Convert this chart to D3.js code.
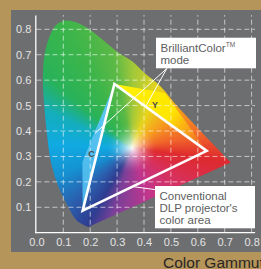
<!DOCTYPE html>
<html>
<head>
<meta charset="utf-8">
<script src="https://cdn.jsdelivr.net/npm/d3@7"></script>
<style>
  body { margin: 0; background: #b5955a; overflow: hidden; }
  svg { display: block; font-family: 'Liberation Sans', Arial, sans-serif; }
</style>
</head>
<body>
<div id="chart"></div>
<script>
// ---- data (CIE xy) ----
const xTicks = [0, 0.1, 0.2, 0.3, 0.4, 0.5, 0.6, 0.7, 0.8];
const yTicks = [0.1, 0.2, 0.3, 0.4, 0.5, 0.6, 0.7, 0.8];

// spectral locus, blue end -> green peak -> red end
const locus = [
  [0.193, 0.022], [0.150, 0.048], [0.119, 0.100], [0.095, 0.150], [0.075, 0.200],
  [0.061, 0.250], [0.050, 0.300], [0.038, 0.400], [0.029, 0.500], [0.024, 0.600],
  [0.030, 0.700], [0.050, 0.775], [0.074, 0.818], [0.100, 0.833], [0.140, 0.830],
  [0.190, 0.805], [0.245, 0.760], [0.300, 0.712], [0.355, 0.675], [0.400, 0.630],
  [0.459, 0.578], [0.530, 0.490], [0.610, 0.400], [0.680, 0.322], [0.722, 0.276]
];

const whitePoint = [0.355, 0.333];

// conventional DLP primaries: green, red, blue
const dlpGamut = [[0.290, 0.585], [0.633, 0.322], [0.172, 0.087]];
// extra BrilliantColor secondaries
const brilliantCyan = [0.171, 0.278];
const brilliantYellow = [0.478, 0.549];

const brilliantLabel = ['BrilliantColor', 'mode'];
const dlpLabel = ['Conventional', "DLP projector's", 'color area'];
const brilliantFrom = [0.485, 0.646];
const brilliantPointers = [[0.218, 0.391], [0.407, 0.498]];
const dlpFrom = [0.441, 0.168];
const dlpPointer = [0.354, 0.182];

// hue stops used to paint the horseshoe (position, colour)
const hueStops = [
  [0.10, 0.83, '#3cb54a'], [0.28, 0.72, '#5cb946'], [0.36, 0.66, '#a2c83a'],
  [0.45, 0.57, '#e8d41a'], [0.52, 0.48, '#f6a11c'], [0.62, 0.38, '#f0622a'],
  [0.72, 0.28, '#de2a2e'], [0.55, 0.20, '#d8305a'], [0.42, 0.12, '#c0358e'],
  [0.28, 0.06, '#7a4098'], [0.19, 0.03, '#2e3d90'], [0.12, 0.10, '#2b5fae'],
  [0.07, 0.22, '#1592d2'], [0.045, 0.35, '#10aae2'], [0.03, 0.48, '#14adbd'],
  [0.03, 0.62, '#28b25a']
];

const width = 261, height = 269;

const svg = d3.select('#chart').append('svg')
  .attr('width', width)
  .attr('height', height);

const x = d3.scaleLinear().domain([0, 0.8]).range([36.4, 251.6]);
const y = d3.scaleLinear().domain([0, 0.8]).range([232.7, 29.3]);

// gray panel
svg.append('rect')
  .attr('x', 11).attr('y', 10)
  .attr('width', width - 11).attr('height', 242)
  .attr('fill', '#6d6e70');

// ---- horseshoe fill painted on a canvas ----
const wx = x(whitePoint[0]), wy = y(whitePoint[1]);
const stops = hueStops
  .map(s => ({ a: Math.atan2(y(s[1]) - wy, x(s[0]) - wx), c: s[2] }))
  .sort((p, q) => p.a - q.a);
const segs = stops.map((s, i) => {
  const nx = stops[(i + 1) % stops.length];
  let a1 = nx.a;
  if (a1 <= s.a) a1 += 2 * Math.PI;
  return { a0: s.a, a1: a1, f: d3.interpolateRgb(s.c, nx.c) };
});

function hueAt(a) {
  for (const s of segs) {
    let aa = a;
    if (aa < s.a0) aa += 2 * Math.PI;
    if (aa >= s.a0 && aa <= s.a1) return s.f((aa - s.a0) / (s.a1 - s.a0));
  }
  return segs[0].f(0);
}

const cv = document.createElement('canvas');
cv.width = width; cv.height = height;
const ctx = cv.getContext('2d');
const img = ctx.createImageData(width, height);
for (let py = 0; py < height; py++) {
  for (let px = 0; px < width; px++) {
    const dx = px + 0.5 - wx, dy = py + 0.5 - wy;
    const c = d3.rgb(hueAt(Math.atan2(dy, dx)));
    let t = Math.min(1, Math.hypot(dx, dy) / 26);
    t = Math.sqrt(t * t * (3 - 2 * t));
    const k = (px + py * width) * 4;
    img.data[k] = 250 + (c.r - 250) * t;
    img.data[k + 1] = 250 + (c.g - 250) * t;
    img.data[k + 2] = 250 + (c.b - 250) * t;
    img.data[k + 3] = 255;
  }
}
ctx.putImageData(img, 0, 0);

const locusPath = d3.line()
  .x(d => x(d[0])).y(d => y(d[1]))
  .curve(d3.curveCatmullRom)(locus) + 'Z';

const defs = svg.append('defs');
defs.append('clipPath').attr('id', 'locusClip')
  .append('path').attr('d', locusPath);

svg.append('image')
  .attr('href', cv.toDataURL())
  .attr('width', width).attr('height', height)
  .attr('clip-path', 'url(#locusClip)');

// ---- BrilliantColor extensions ----
const [G, R, B] = dlpGamut;
const yg = defs.append('linearGradient').attr('id', 'yellowWedge')
  .attr('gradientUnits', 'userSpaceOnUse')
  .attr('x1', x(G[0])).attr('y1', y(G[1]))
  .attr('x2', x(R[0])).attr('y2', y(R[1]));
yg.append('stop').attr('offset', '0%').attr('stop-color', '#fff200');
yg.append('stop').attr('offset', '55%').attr('stop-color', '#ffe600');
yg.append('stop').attr('offset', '80%').attr('stop-color', '#f7941d');
yg.append('stop').attr('offset', '100%').attr('stop-color', '#ee4023');

const cg = defs.append('linearGradient').attr('id', 'cyanWedge')
  .attr('gradientUnits', 'userSpaceOnUse')
  .attr('x1', x(G[0])).attr('y1', y(G[1]))
  .attr('x2', x(B[0])).attr('y2', y(B[1]));
cg.append('stop').attr('offset', '0%').attr('stop-color', '#5ccbf3');
cg.append('stop').attr('offset', '100%').attr('stop-color', '#49b4ea');

const poly = d3.line().x(d => x(d[0])).y(d => y(d[1]));

svg.append('path')
  .attr('d', poly([G, brilliantYellow, R]) + 'Z')
  .attr('fill', 'url(#yellowWedge)');
svg.append('path')
  .attr('d', poly([G, brilliantCyan, B]) + 'Z')
  .attr('fill', 'url(#cyanWedge)');

// ---- grid ----
const grid = svg.append('g')
  .attr('stroke', 'rgba(255,255,255,0.6)')
  .attr('stroke-width', 1)
  .attr('stroke-dasharray', '5,3');

grid.selectAll('line.h')
  .data(yTicks)
  .enter()
  .append('line')
  .attr('x1', x(0)).attr('x2', x(0.813))
  .attr('y1', d => y(d)).attr('y2', d => y(d));

grid.selectAll('line.v')
  .data(xTicks.slice(1))
  .enter()
  .append('line')
  .attr('x1', d => x(d)).attr('x2', d => x(d))
  .attr('y1', y(0)).attr('y2', y(0.856));

// axes
svg.append('line')
  .attr('x1', x(0) - 0.6).attr('x2', x(0) - 0.6)
  .attr('y1', y(0) + 0.6).attr('y2', y(0.854))
  .attr('stroke', '#fff').attr('stroke-width', 1.3);
svg.append('line')
  .attr('x1', x(0) - 1.2).attr('x2', x(0.813))
  .attr('y1', y(0)).attr('y2', y(0))
  .attr('stroke', '#fff').attr('stroke-width', 1.3);

const fmt = d3.format('.1f');
const gx = svg.append('g')
  .attr('transform', 'translate(0,' + y(0) + ')')
  .call(d3.axisBottom(x).tickValues(xTicks).tickFormat(fmt).tickSize(0).tickPadding(6));
const gy = svg.append('g')
  .attr('transform', 'translate(' + x(0) + ',0)')
  .call(d3.axisLeft(y).tickValues(yTicks).tickFormat(fmt).tickSize(0).tickPadding(5));
[gx, gy].forEach(g => {
  g.select('.domain').remove();
  g.selectAll('text')
    .attr('font-family', "'Liberation Sans', Arial, sans-serif")
    .attr('font-size', 11)
    .attr('fill', '#e4e4e4');
});

// conventional DLP triangle
svg.append('path')
  .attr('d', poly(dlpGamut) + 'Z')
  .attr('fill', 'none')
  .attr('stroke', '#fff')
  .attr('stroke-width', 2.6)
  .attr('stroke-linejoin', 'miter');

// C / Y marks
svg.append('text')
  .attr('x', x(0.2) + 1.2).attr('y', y(0.3) - 1.5)
  .attr('text-anchor', 'middle').attr('dominant-baseline', 'middle')
  .attr('font-size', 9).attr('font-weight', 'bold').attr('fill', '#4a4a4c')
  .text('C');
svg.append('text')
  .attr('x', x(0.44) + 0.2).attr('y', y(0.5) + 0.5)
  .attr('text-anchor', 'middle').attr('dominant-baseline', 'middle')
  .attr('font-size', 9).attr('font-weight', 'bold').attr('fill', '#4a4a4c')
  .text('Y');

// callout pointers
const pointer = svg.append('g').attr('stroke', '#fff').attr('stroke-width', 1);
brilliantPointers.forEach(p => {
  pointer.append('line')
    .attr('x1', x(brilliantFrom[0])).attr('y1', y(brilliantFrom[1]))
    .attr('x2', x(p[0])).attr('y2', y(p[1]));
});
pointer.append('line')
  .attr('x1', x(dlpFrom[0]) + 3).attr('y1', y(dlpFrom[1]))
  .attr('x2', x(dlpPointer[0])).attr('y2', y(dlpPointer[1]));

// callout boxes
function callout(bx, by, bw, bh, lines, tm) {
  const g = svg.append('g');
  g.append('rect')
    .attr('x', bx).attr('y', by).attr('width', bw).attr('height', bh)
    .attr('fill', '#ffffff');
  const t = g.append('text')
    .attr('font-size', 11.5).attr('fill', '#5d5e60');
  lines.forEach((l, i) => {
    t.append('tspan')
      .attr('x', bx + 4.5).attr('y', by + 14.2 + i * 12)
      .text(l);
    if (tm && i === 0) {
      t.append('tspan')
        .attr('font-size', 6.5).attr('dy', -4.5)
        .text('TM');
    }
  });
}
callout(156, 37.7, 100, 30.6, brilliantLabel, true);
callout(155, 186, 100, 42.3, dlpLabel, false);

// caption below the panel
svg.append('text')
  .attr('x', 163).attr('y', 267.8)
  .attr('font-size', 15.5).attr('fill', '#2a2624')
  .text('Color Gammut');
</script>
</body>
</html>
